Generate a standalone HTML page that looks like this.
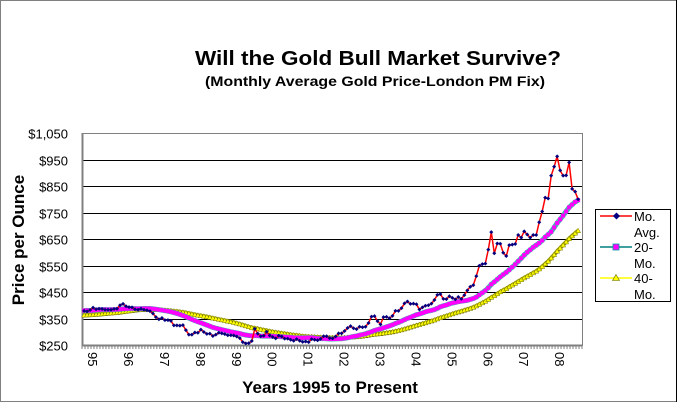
<!DOCTYPE html>
<html><head><meta charset="utf-8"><style>
html,body{margin:0;padding:0;background:#fff;}
svg{display:block;font-family:"Liberation Sans",Arial,sans-serif;}
</style></head><body>
<svg id="chart" width="678" height="402" viewBox="0 0 678 402">
<rect x="0.5" y="0.5" width="676" height="401" fill="#fff" stroke="#000" stroke-dasharray="1,1"/>
<line x1="676.5" y1="0" x2="676.5" y2="402" stroke="#000"/>
<text x="378" y="65" text-anchor="middle" font-size="20" font-weight="bold" textLength="366" lengthAdjust="spacingAndGlyphs">Will the Gold Bull Market Survive?</text>
<text x="375" y="86" text-anchor="middle" font-size="14" font-weight="bold" textLength="340" lengthAdjust="spacingAndGlyphs">(Monthly Average Gold Price-London PM Fix)</text>
<text transform="translate(24,240) rotate(-90)" text-anchor="middle" font-size="17" font-weight="bold">Price per Ounce</text>
<text x="330" y="393" text-anchor="middle" font-size="17" font-weight="bold">Years 1995 to Present</text>
<g id="grid"></g><g id="axes"></g><g id="series"></g>
<g>
<rect x="595.5" y="209.5" width="75" height="92" fill="#fff" stroke="#000"/>
<g>
<line x1="600" y1="216" x2="632" y2="216" stroke="#f00" stroke-width="1.5"/>
<rect x="614" y="213.5" width="5" height="5" fill="#000080" transform="rotate(45 616.5 216)"/>
<text x="634" y="221" font-size="13">Mo.</text><text x="634" y="237" font-size="13">Avg.</text></g>
<g>
<line x1="600" y1="247" x2="632" y2="247" stroke="#008080" stroke-width="1.5"/>
<rect x="613" y="244" width="6" height="6" fill="#f0f" stroke="#00a0a0" stroke-width="0.8"/>
<text x="634" y="252" font-size="13">20-</text><text x="634" y="268" font-size="13">Mo.</text></g>
<g>
<line x1="600" y1="278" x2="632" y2="278" stroke="#ff0" stroke-width="1.5"/>
<path d="M616,274.5 L619.5,280.5 L612.5,280.5Z" fill="#ff0" stroke="#606000" stroke-width="0.6"/>
<text x="634" y="283" font-size="13">40-</text><text x="634" y="299" font-size="13">Mo.</text></g>
</g>
</svg>
<script>
const yTicks=[250,350,450,550,650,750,850,950,1050];
const yLabels=["$250","$350","$450","$550","$650","$750","$850","$950","$1,050"];
const xLabels=["95","96","97","98","99","00","01","02","03","04","05","06","07","08"];
const priorMonths=[358,360,361,354,354,345,338,337,341,353,343,345,344,335,334,329,330,330,342,367,371,392,378,355,365,374,383,387,382,384,377,381,386,385,380,391,389,384,380];
const monthly=[379,377,382,391,385,387,386,383,383,383,386,387,
400,405,396,393,392,385,383,387,383,381,378,369,
355,347,352,344,344,341,324,324,323,325,306,289,
289,297,296,308,299,292,293,284,289,296,294,291,
287,287,286,282,276,261,256,257,265,311,293,283,
285,300,286,280,275,285,282,274,274,270,266,272,
266,262,263,261,272,270,268,273,283,283,276,275,
282,294,294,303,314,321,313,310,319,317,319,333,
357,359,340,328,355,356,351,360,379,379,389,407,
414,405,406,404,384,392,398,400,406,420,439,442,
424,423,434,428,422,431,424,438,456,470,476,510,
549,555,557,610,676,596,633,632,598,586,627,629,
631,665,655,679,667,655,665,665,713,754,806,803,
889,923,962,909,889,890,939,839,829,800];

const NS="http://www.w3.org/2000/svg";
const X0=82,X1=582,Y0=345,Y1=133,VMIN=250,VMAX=1050,NMONTHS=167;
function xs(i){return X0+(i+0.7)*(X1-X0)/NMONTHS;}
function ys(v){return Y0-(v-VMIN)*(Y0-Y1)/(VMAX-VMIN);}
function mk(tag,attrs,parent){const e=document.createElementNS(NS,tag);for(const k in attrs)e.setAttribute(k,attrs[k]);parent.appendChild(e);return e;}
const grid=document.getElementById('grid'),axes=document.getElementById('axes'),ser=document.getElementById('series');

yTicks.forEach((v,i)=>{
  const y=Math.round(ys(v))+0.5;
  if(i>0){const g=mk('line',{x1:X0,x2:X1,y1:y,y2:y,stroke:'#000','stroke-width':1},grid);
  
  }
  const t=mk('text',{x:68,y:y+5,'text-anchor':'end','font-size':13},axes);
  t.textContent=yLabels[i];
  
  
});
const r=mk('rect',{x:X0+0.5,y:Y1+0.5,width:X1-X0,height:Y0-Y1,fill:'none',stroke:'#808080'},axes);


const ya=mk('line',{x1:X0+0.5,x2:X0+0.5,y1:Y1,y2:Y0,stroke:'#808080','stroke-width':2},axes);


const xa=mk('line',{x1:X0,x2:X1,y1:Y0+0.5,y2:Y0+0.5,stroke:'#808080','stroke-width':2},axes);


for(let i=0;i<=NMONTHS;i++){
  const x=X0+i*(X1-X0)/NMONTHS;
  const tk=mk('line',{x1:x,x2:x,y1:Y0,y2:Y0+4,stroke:'#808080','stroke-width':1},axes);
  
  
}
xLabels.forEach((l,i)=>{
  const x=xs(i*12)+4;
  const t=mk('text',{transform:`translate(${x},352) rotate(90)`,'font-size':13},axes);
  t.textContent=l;
  
  
});

const all=priorMonths.concat(monthly);
function ma(n){const out=[];for(let i=0;i<monthly.length;i++){const k=i+priorMonths.length;let s=0,c=0;for(let j=Math.max(0,k-n+1);j<=k;j++){s+=all[j];c++;}out.push(s/c);}return out;}
const ma20=ma(20),ma40=ma(40);

function pts(arr){return arr.map((v,i)=>xs(i).toFixed(1)+','+ys(v).toFixed(1)).join(' ');}

// 40-month
const l40=mk('polyline',{points:pts(ma40),fill:'none',stroke:'#a0a000','stroke-width':4},ser);


ma40.forEach((v,i)=>{const x=xs(i),y=ys(v);
  const p=mk('path',{d:`M${x},${y-2.5}L${x+2.5},${y+2}L${x-2.5},${y+2}Z`,fill:'#ff0',stroke:'#707000','stroke-width':0.5},ser);
  
  });
// 20-month
const l20=mk('polyline',{points:pts(ma20),fill:'none',stroke:'#40b0b0','stroke-width':5},ser);


ma20.forEach((v,i)=>{const x=xs(i),y=ys(v);
  const p=mk('rect',{x:x-2,y:y-2,width:4,height:4,fill:'#f0f'},ser);
  
  });
// monthly
const lm=mk('polyline',{points:pts(monthly),fill:'none',stroke:'#f00','stroke-width':1.5},ser);


monthly.forEach((v,i)=>{const x=xs(i),y=ys(v);
  const p=mk('path',{d:`M${x},${y-2}L${x+2},${y}L${x},${y+2}L${x-2},${y}Z`,fill:'#000080'},ser);
  
  });
</script>
</body></html>
